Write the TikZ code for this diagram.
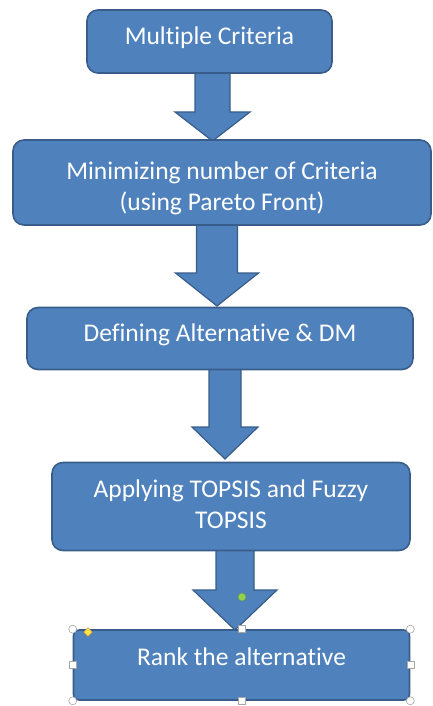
\documentclass[tikz,border=0pt]{standalone}
\usepackage{fontspec}
\setmainfont{Carlito}[Ligatures=CommonOff]
\definecolor{boxfill}{HTML}{4F81BD}
\definecolor{boxline}{HTML}{385D8A}
\definecolor{handlegreen}{HTML}{92D050}
\definecolor{handleyellow}{HTML}{FFE34D}
\tikzset{
  x=1pt,y=-1pt,
  flowbox/.style={draw=boxline, line width=1.6pt, fill=boxfill, rounded corners=11pt,
     text=white, font=\fontsize{25.5}{31}\selectfont, align=center, inner sep=0pt},
  blockarrow/.style={draw=boxline, line width=1.2pt, fill=boxfill, line join=miter},
  handlecirc/.style={circle, draw=gray!70, fill=white, line width=0.6pt, minimum size=8pt, inner sep=0pt},
  handlesq/.style={rectangle, draw=gray!70, fill=white, line width=0.6pt, minimum size=7pt, inner sep=0pt},
}
% \barrow{cx}{top}{neck}{tip}{halfshaft}{halfhead}
\newcommand\barrow[6]{%
  \draw[blockarrow] (#1-#5,#2) -- (#1+#5,#2) -- (#1+#5,#3) -- (#1+#6,#3) -- (#1,#4)
     -- (#1-#6,#3) -- (#1-#5,#3) -- cycle;}
% baseline of the (last) line placed #1 above the box centre
\newcommand\oneline[2]{\raisebox{#1}[0pt][0pt]{#2}}
\newcommand\twolines[3]{\raisebox{#1}[0pt][0pt]{\begin{tabular}[b]{@{}c@{}}#2\\#3\end{tabular}}}
\begin{document}
\begin{tikzpicture}
\useasboundingbox (0,0) rectangle (433,706);
% arrows first (behind boxes)
\barrow{212.5}{70}{112}{141}{17.5}{37.5}
\barrow{217}{222}{273}{306}{20.5}{41.5}
\barrow{225}{366}{427}{459}{16}{33}
\barrow{235}{548}{590}{630}{19}{42}
% boxes
\node[flowbox, minimum width=245pt, minimum height=63pt] (b1) at (209.5,41.5) {\oneline{-3.5pt}{Multiple Criteria}};
\node[flowbox, minimum width=418pt, minimum height=85pt] (b2) at (222,182.5) {\twolines{-27.5pt}{Minimizing number of Criteria}{(using Pareto Front)}};
\node[flowbox, minimum width=386pt, minimum height=62pt] (b3) at (220,338.5) {\oneline{-2.5pt}{Defining Alternative \& DM}};
\node[flowbox, minimum width=358pt, minimum height=88pt] (b4) at (231,506.5) {\twolines{-21.5pt}{Applying TOPSIS and Fuzzy}{TOPSIS}};
\node[flowbox, minimum width=336pt, minimum height=70pt, rounded corners=6pt] (b5) at (241.5,665) {\oneline{0pt}{Rank the alternative}};
% selection handles
\node[handlecirc] (h1) at (b5.north west) {};
\node[handlecirc] (h2) at (b5.north east) {};
\node[handlecirc] (h3) at (b5.south west) {};
\node[handlecirc] (h4) at (b5.south east) {};
\node[handlesq] (h5) at (b5.north) {};
\node[handlesq] (h6) at (b5.south) {};
\node[handlesq] (h7) at (b5.west) {};
\node[handlesq] (h8) at (b5.east) {};
\node[circle, fill=handlegreen, draw=handlegreen!70!black, line width=0.4pt, minimum size=8pt, inner sep=0pt] (rot) at (242,597) {};
\coordinate (adj) at (88,632);
\filldraw[fill=handleyellow, draw=orange!60!black, line width=0.3pt] ([shift={(0,-4.5)}]adj) -- ([shift={(4.5,0)}]adj) -- ([shift={(0,4.5)}]adj) -- ([shift={(-4.5,0)}]adj) -- cycle;
\end{tikzpicture}
\end{document}
